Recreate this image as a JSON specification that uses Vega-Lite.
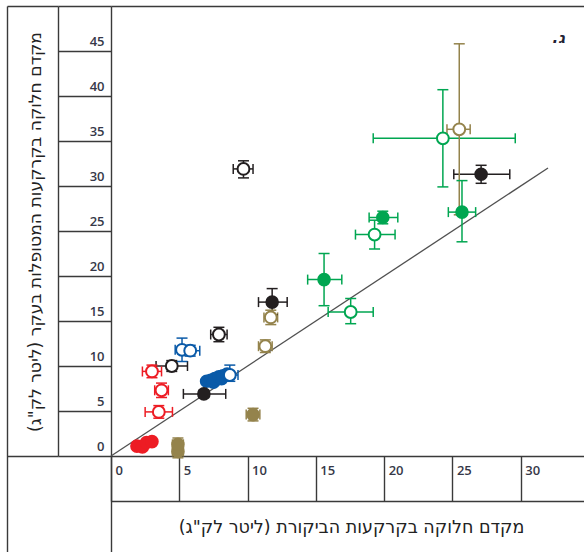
{
  "$schema": "https://vega.github.io/schema/vega-lite/v6.json",
  "autosize": {"type": "none"},
  "padding": {"left": 111, "top": 6, "right": 0, "bottom": 0},
  "width": 478,
  "height": 546,
  "background": "white",
  "config": {
    "view": {"stroke": null},
    "axis": {
      "grid": false,
      "domainColor": "#3a3a3a",
      "tickColor": "#3a3a3a",
      "domainWidth": 1.4,
      "tickWidth": 1.4,
      "labelFont": "Open Sans",
      "labelFontSize": 13,
      "labelFontWeight": 600,
      "labelColor": "#363848",
      "titleFont": "DejaVu Sans",
      "titleFontSize": 17.5,
      "titleFontWeight": "normal",
      "titleColor": "#222222"
    }
  },
  "title": {
    "text": ".ג",
    "anchor": "end",
    "frame": "group",
    "orient": "top",
    "font": "DejaVu Sans",
    "fontSize": 15,
    "fontWeight": "bold",
    "fontStyle": "italic",
    "color": "#222233",
    "dx": -24,
    "dy": 59
  },
  "data": {
    "values": [
      {"g": "red", "f": "f", "x": 1.9, "y": 1.1},
      {"g": "red", "f": "f", "x": 2.3, "y": 1.0},
      {"g": "red", "f": "f", "x": 2.6, "y": 1.5},
      {"g": "red", "f": "f", "x": 3.0, "y": 1.6},
      {"g": "red", "f": "o", "x": 3.0, "y": 9.4, "xlo": 2.3, "xhi": 3.7, "ylo": 8.7, "yhi": 10.1},
      {"g": "red", "f": "o", "x": 3.7, "y": 7.3, "xlo": 3.2, "xhi": 4.2, "ylo": 6.5, "yhi": 8.1},
      {"g": "red", "f": "o", "x": 3.5, "y": 4.9, "xlo": 2.5, "xhi": 4.5, "ylo": 4.2, "yhi": 5.6},
      {"g": "blue", "f": "o", "x": 5.2, "y": 11.8, "xlo": 4.7, "xhi": 5.7, "ylo": 10.5, "yhi": 13.1},
      {"g": "blue", "f": "o", "x": 5.8, "y": 11.7, "xlo": 5.1, "xhi": 6.5, "ylo": 11.1, "yhi": 12.3},
      {"g": "blue", "f": "f", "x": 7.0, "y": 8.3},
      {"g": "blue", "f": "f", "x": 7.3, "y": 8.4},
      {"g": "blue", "f": "f", "x": 7.5, "y": 8.2},
      {"g": "blue", "f": "f", "x": 7.6, "y": 8.6},
      {"g": "blue", "f": "f", "x": 7.9, "y": 8.8},
      {"g": "blue", "f": "f", "x": 8.1, "y": 8.6},
      {"g": "blue", "f": "f", "x": 8.2, "y": 8.9},
      {"g": "blue", "f": "f", "x": 8.5, "y": 9.1},
      {"g": "blue", "f": "o", "x": 8.7, "y": 9.0, "xlo": 8.1, "xhi": 9.3, "ylo": 8.3, "yhi": 10.1},
      {"g": "black", "f": "f", "x": 6.8, "y": 6.9, "xlo": 5.3, "xhi": 8.4, "ylo": 6.5, "yhi": 7.3},
      {"g": "black", "f": "o", "x": 4.45, "y": 10.0, "xlo": 3.3, "xhi": 5.6, "ylo": 9.4, "yhi": 10.6},
      {"g": "black", "f": "o", "x": 7.9, "y": 13.5, "xlo": 7.3, "xhi": 8.5, "ylo": 12.7, "yhi": 14.3},
      {"g": "black", "f": "o", "x": 9.7, "y": 31.9, "xlo": 8.95, "xhi": 10.4, "ylo": 30.9, "yhi": 32.8},
      {"g": "black", "f": "f", "x": 11.8, "y": 17.1, "xlo": 10.8, "xhi": 12.9, "ylo": 15.7, "yhi": 18.6},
      {"g": "black", "f": "f", "x": 27.1, "y": 31.3, "xlo": 25.1, "xhi": 29.2, "ylo": 30.3, "yhi": 32.3},
      {"g": "tan", "f": "f", "x": 4.9, "y": 0.5, "xlo": 4.5, "xhi": 5.3, "ylo": -0.2, "yhi": 1.2},
      {"g": "tan", "f": "f", "x": 4.9, "y": 1.3, "xlo": 4.5, "xhi": 5.3, "ylo": 0.6, "yhi": 2.0},
      {"g": "tan", "f": "f", "x": 10.4, "y": 4.6, "xlo": 9.9, "xhi": 10.9, "ylo": 3.9, "yhi": 5.3},
      {"g": "tan", "f": "o", "x": 11.3, "y": 12.2, "xlo": 10.8, "xhi": 11.8, "ylo": 11.5, "yhi": 12.9},
      {"g": "tan", "f": "o", "x": 11.7, "y": 15.4, "xlo": 11.2, "xhi": 12.2, "ylo": 14.6, "yhi": 16.2},
      {"g": "tan", "f": "o", "x": 25.5, "y": 36.3, "xlo": 24.6, "xhi": 26.3, "ylo": 26.8, "yhi": 45.8},
      {"g": "green", "f": "f", "x": 15.6, "y": 19.6, "xlo": 14.4, "xhi": 16.9, "ylo": 16.7, "yhi": 22.5},
      {"g": "green", "f": "o", "x": 17.55, "y": 16.0, "xlo": 15.9, "xhi": 19.2, "ylo": 14.7, "yhi": 17.5},
      {"g": "green", "f": "o", "x": 19.3, "y": 24.6, "xlo": 17.9, "xhi": 20.8, "ylo": 23.0, "yhi": 26.2},
      {"g": "green", "f": "f", "x": 19.9, "y": 26.5, "xlo": 18.9, "xhi": 21.0, "ylo": 25.8, "yhi": 27.2},
      {"g": "green", "f": "f", "x": 25.7, "y": 27.1, "xlo": 24.7, "xhi": 26.7, "ylo": 23.8, "yhi": 30.6},
      {"g": "green", "f": "o", "x": 24.3, "y": 35.3, "xlo": 19.2, "xhi": 29.6, "ylo": 29.9, "yhi": 40.7}
    ]
  },
  "layer": [
    {
      "data": {"values": [{"a": 0, "b": 0, "a2": 32, "b2": 32}]},
      "mark": {"type": "rule", "color": "#505050", "strokeWidth": 1.3},
      "encoding": {
        "x": {
          "field": "a", "type": "quantitative",
          "scale": {"domain": [0, 35], "nice": false, "zero": false},
          "axis": {
            "orient": "bottom", "offset": -96,
            "values": [0, 5, 10, 15, 20, 25, 30],
            "tickSize": 45, "labelAlign": "left", "labelBaseline": "top",
            "labelPadding": -37, "labelOffset": 4,
            "labelFlush": false, "labelBound": false, "labelOverlap": false,
            "title": null
          }
        },
        "x2": {"field": "a2"},
        "y": {
          "field": "b", "type": "quantitative",
          "scale": {"domain": [-10.6667, 50], "nice": false, "zero": false},
          "axis": {
            "orient": "left", "offset": 0,
            "values": [0, 5, 10, 15, 20, 25, 30, 35, 40, 45, 50],
            "tickSize": 53, "labelAlign": "right", "labelBaseline": "alphabetic",
            "labelPadding": -46, "labelOffset": -5,
            "labelExpr": "datum.value >= 50 ? '' : datum.label",
            "labelFlush": false, "labelBound": false, "labelOverlap": false,
            "title": null
          }
        },
        "y2": {"field": "b2"}
      }
    },
    {
      "transform": [{"filter": "datum.xlo != null"}],
      "mark": {"type": "rule", "strokeWidth": 1.5},
      "encoding": {
        "x": {
          "field": "xlo", "type": "quantitative",
          "scale": {"domain": [0, 35], "nice": false, "zero": false},
          "axis": {
            "orient": "bottom", "offset": -51,
            "ticks": false, "labels": false,
            "title": "מקדם חלוקה בקרקעות הביקורת (ליטר לק\"ג)‏",
            "titleX": 240, "titleY": 26,
            "titleAlign": "center", "titleBaseline": "middle", "titleAnchor": null
          }
        },
        "x2": {"field": "xhi"},
        "y": {
          "field": "y", "type": "quantitative",
          "scale": {"domain": [-10.6667, 50], "nice": false, "zero": false},
          "axis": {
            "orient": "left", "offset": 53,
            "values": [0, 50], "tickSize": 51, "labels": false,
            "domainDash": [0, 96, 450, 1000],
            "title": null
          }
        },
        "color": {
          "field": "g", "type": "nominal", "legend": null,
          "scale": {"domain": ["red", "blue", "black", "tan", "green"], "range": ["#ed1c24", "#0a5aa8", "#231f20", "#94834c", "#00a651"]}
        }
      }
    },
    {
      "transform": [{"filter": "datum.ylo != null"}],
      "mark": {"type": "rule", "strokeWidth": 1.5},
      "encoding": {
        "x": {
          "field": "x", "type": "quantitative",
          "scale": {"domain": [0, 35], "nice": false, "zero": false},
          "axis": {"orient": "top", "offset": 0, "ticks": false, "labels": false, "title": null}
        },
        "y": {
          "field": "ylo", "type": "quantitative",
          "scale": {"domain": [-10.6667, 50], "nice": false, "zero": false},
          "axis": {
            "orient": "left", "offset": 104, "ticks": false, "labels": false,
            "title": "מקדם חלוקה בקרקעות המטופלות בעקר (ליטר לק\"ג)‏",
            "titleFontSize": 17.2,
            "titleAngle": -90, "titleX": 28.5, "titleY": 225.5,
            "titleAlign": "center", "titleBaseline": "middle", "titleAnchor": null
          }
        },
        "y2": {"field": "yhi"},
        "color": {"field": "g", "type": "nominal", "legend": null}
      }
    },
    {
      "transform": [
        {"filter": "datum.xlo != null"},
        {"fold": ["xlo", "xhi"], "as": ["end", "v"]}
      ],
      "mark": {"type": "tick", "orient": "vertical", "size": 10, "thickness": 1.5, "opacity": 1},
      "encoding": {
        "x": {"field": "v", "type": "quantitative", "scale": {"domain": [0, 35], "nice": false, "zero": false}, "axis": null},
        "y": {"field": "y", "type": "quantitative", "scale": {"domain": [-10.6667, 50], "nice": false, "zero": false}, "axis": null},
        "color": {"field": "g", "type": "nominal", "legend": null}
      }
    },
    {
      "transform": [
        {"filter": "datum.ylo != null"},
        {"fold": ["ylo", "yhi"], "as": ["end", "v"]}
      ],
      "mark": {"type": "tick", "orient": "horizontal", "size": 11, "thickness": 1.5, "opacity": 1},
      "encoding": {
        "x": {"field": "x", "type": "quantitative", "scale": {"domain": [0, 35], "nice": false, "zero": false}, "axis": null},
        "y": {"field": "v", "type": "quantitative", "scale": {"domain": [-10.6667, 50], "nice": false, "zero": false}, "axis": null},
        "color": {"field": "g", "type": "nominal", "legend": null}
      }
    },
    {
      "transform": [{"filter": "datum.f == 'f'"}],
      "mark": {"type": "point", "shape": "circle", "filled": true, "size": 185, "opacity": 1},
      "encoding": {
        "x": {"field": "x", "type": "quantitative", "scale": {"domain": [0, 35], "nice": false, "zero": false}, "axis": null},
        "y": {"field": "y", "type": "quantitative", "scale": {"domain": [-10.6667, 50], "nice": false, "zero": false}, "axis": null},
        "color": {"field": "g", "type": "nominal", "legend": null}
      }
    },
    {
      "transform": [{"filter": "datum.f == 'o'"}],
      "mark": {"type": "point", "shape": "circle", "fill": "white", "size": 140, "strokeWidth": 2, "opacity": 1, "fillOpacity": 1},
      "encoding": {
        "x": {"field": "x", "type": "quantitative", "scale": {"domain": [0, 35], "nice": false, "zero": false}, "axis": null},
        "y": {"field": "y", "type": "quantitative", "scale": {"domain": [-10.6667, 50], "nice": false, "zero": false}, "axis": null},
        "stroke": {
          "field": "g", "type": "nominal", "legend": null,
          "scale": {"domain": ["red", "blue", "black", "tan", "green"], "range": ["#ed1c24", "#0a5aa8", "#231f20", "#94834c", "#00a651"]}
        }
      }
    }
  ],
  "resolve": {"axis": {"x": "independent", "y": "independent"}}
}
